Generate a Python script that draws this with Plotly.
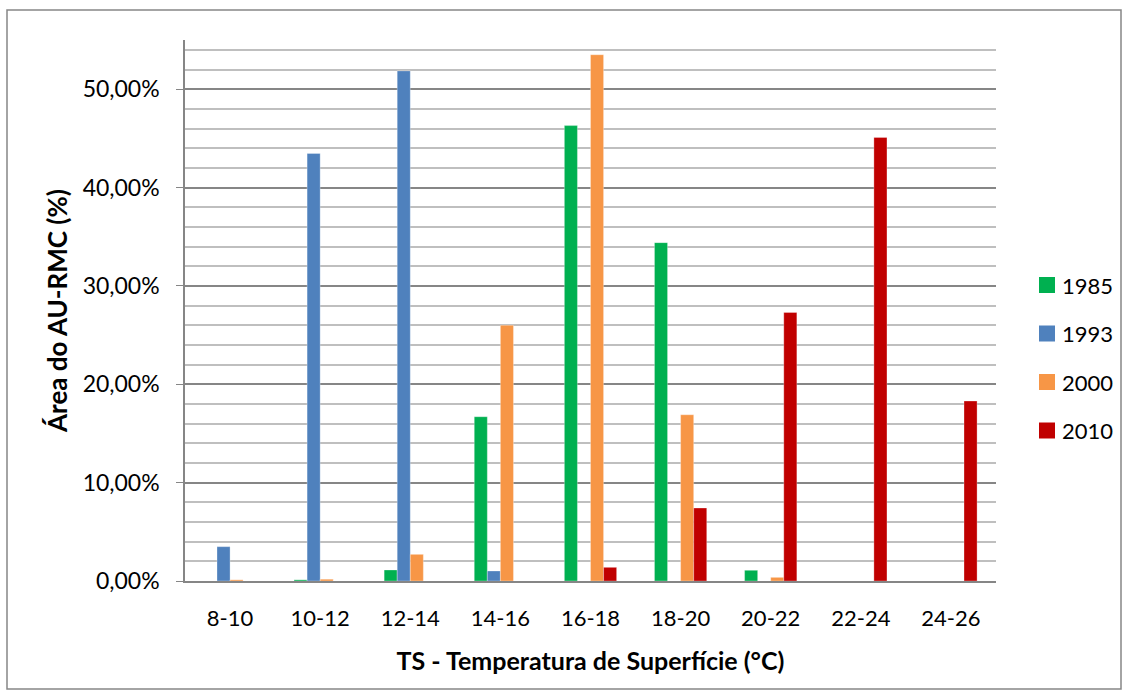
import plotly.graph_objects as go

# Temperature classes (°C) and share of urban area per year
categories = ["8-10", "10-12", "12-14", "14-16", "16-18", "18-20", "20-22", "22-24", "24-26"]
years = ["1985", "1993", "2000", "2010"]
share_1985 = [0.0, 0.0012, 0.0112, 0.167, 0.463, 0.344, 0.0109, 0.0, 0.0]
share_1993 = [0.0349, 0.4347, 0.5186, 0.0102, 0.0, 0.0, 0.0, 0.0, 0.0]
share_2000 = [0.0012, 0.0018, 0.0271, 0.260, 0.535, 0.169, 0.0037, 0.0, 0.0]
share_2010 = [0.0, 0.0, 0.0, 0.0, 0.0139, 0.0742, 0.273, 0.451, 0.183]
colors = ["#00B050", "#4F81BD", "#F79646", "#C00000"]
y_ticks = [0, 0.1, 0.2, 0.3, 0.4, 0.5]

series = [share_1985, share_1993, share_2000, share_2010]

font_family = "Lato, 'Open Sans', sans-serif"

fig = go.Figure()
for year, vals, col in zip(years, series, colors):
    fig.add_trace(go.Bar(
        x=categories, y=vals, name=year,
        marker=dict(color=col, line=dict(color="rgba(255,255,255,0.5)", width=0.6)),
        showlegend=False,
    ))

W, H = 1129, 699
L, R, T, B = 185, 133, 40, 118
pw, ph = W - L - R, H - T - B

def px_x(px):
    return (px - L) / pw

def px_y(py):
    return (H - B - py) / ph

# Outer chart border
shapes = [dict(
    type="rect", xref="paper", yref="paper",
    x0=px_x(7), x1=px_x(1121), y0=px_y(689), y1=px_y(10),
    line=dict(color="#868686", width=1.5), fillcolor="rgba(0,0,0,0)", layer="below",
)]
annotations = []

# Legend: coloured squares with the year beside them
key_x, key_size, first_row, row_step = 1039, 16, 285, 48.5
for i, (year, col) in enumerate(zip(years, colors)):
    cy = first_row + i * row_step
    shapes.append(dict(
        type="rect", xref="paper", yref="paper",
        x0=px_x(key_x), x1=px_x(key_x + key_size),
        y0=px_y(cy + key_size / 2), y1=px_y(cy - key_size / 2),
        line=dict(width=0), fillcolor=col,
    ))
    annotations.append(dict(
        text=year, xref="paper", yref="paper",
        x=px_x(key_x + key_size + 5), y=px_y(cy),
        xanchor="left", yanchor="middle", showarrow=False,
        font=dict(size=22, color="black"),
    ))

fig.update_layout(
    width=W, height=H,
    margin=dict(l=L, r=R, t=T, b=B),
    paper_bgcolor="white", plot_bgcolor="white",
    barmode="group", bargap=0.42, bargroupgap=0,
    separators=",.",
    font=dict(family=font_family, size=22, color="black"),
    showlegend=False,
    xaxis=dict(
        type="category",
        showline=True, linecolor="#868686", linewidth=1.5,
        ticks="", tickfont=dict(size=22), ticklabelstandoff=17,
        title=dict(text="<b>TS - Temperatura de Superfície (°C)</b>", font=dict(size=25), standoff=22),
    ),
    yaxis=dict(
        range=[0, 0.55],
        tickvals=y_ticks, tickformat=".2%",
        showline=True, linecolor="#868686", linewidth=1.5,
        ticks="outside", ticklen=7, tickcolor="#868686",
        ticklabelstandoff=12,
        showgrid=True, gridcolor="#868686", gridwidth=1.5,
        minor=dict(dtick=0.02, showgrid=True, gridcolor="#BFBFBF", gridwidth=1.5),
        zeroline=False,
        tickfont=dict(size=23),
        title=dict(text="<b>Área do AU-RMC (%)</b>", font=dict(size=26), standoff=8),
    ),
    shapes=shapes,
    annotations=annotations,
)

fig.write_html("out.html")
